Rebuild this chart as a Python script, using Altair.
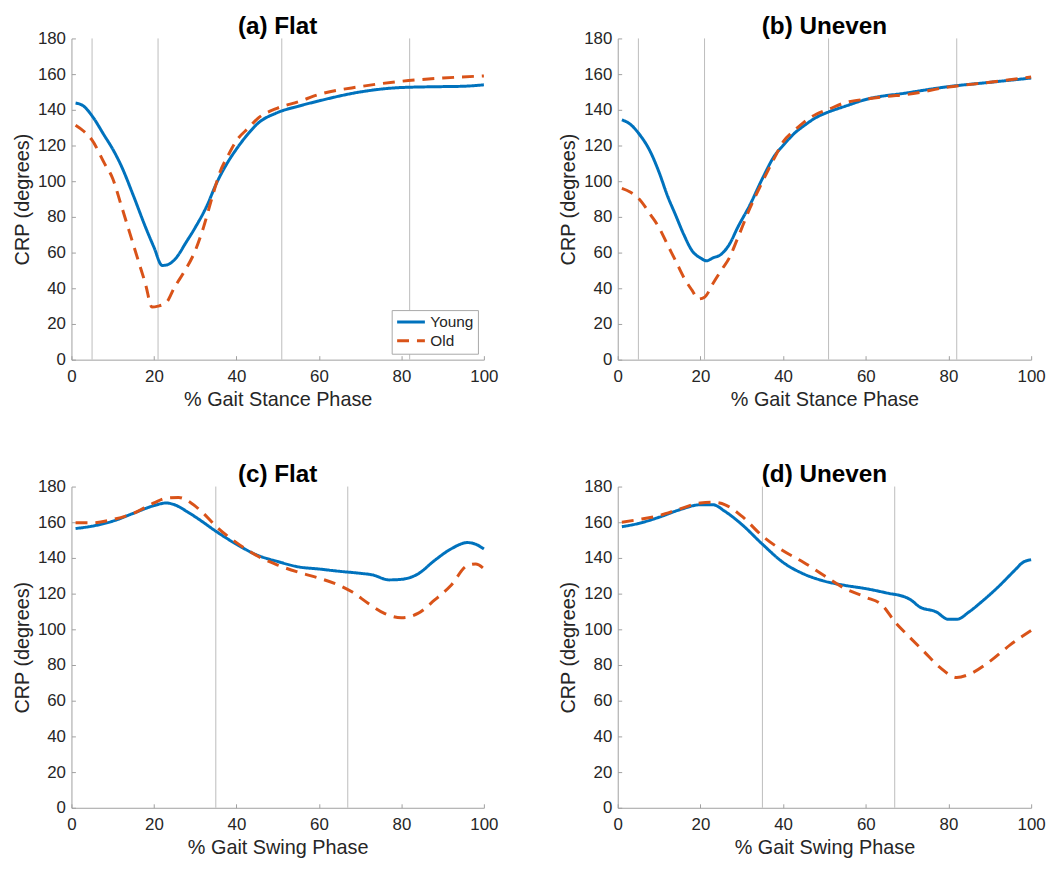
import altair as alt
import pandas as pd

# ---------------- data ----------------
groups = ["Young", "Old"]
colors = ["#0072BD", "#D95319"]

stance_events = [5, 21, 51, 82]
swing_events = [35, 67]

a_young_x = [1, 3, 5, 8, 10, 12, 15, 18, 20, 22, 23, 25, 28, 30, 33, 35, 38, 40, 43, 45, 50, 55, 60, 70, 80, 90, 95, 100]
a_young_y = [143.8, 142, 136.6, 125.5, 118, 109, 92, 74, 63, 52.8, 53, 56, 66.5, 74, 87, 98, 111, 118, 127, 132, 138.5, 142, 145, 150, 152.5, 153, 153.2, 154]
a_old_x = [1, 3, 5, 8, 10, 12, 14, 16, 18, 19.5, 21, 23, 25, 27, 30, 32, 34, 36, 38, 40, 43, 45, 50, 55, 60, 70, 80, 90, 100]
a_old_y = [131.4, 128, 123, 110, 101.5, 87, 72, 57, 42, 29.5, 30, 32, 40.6, 48, 61, 74, 90, 105, 114.5, 122.7, 130, 134.8, 141, 144.5, 148.6, 153, 156, 157.8, 159]

b_young_x = [1, 3, 5, 8, 10, 12, 14, 16, 18, 20, 21.5, 23, 25, 27, 29, 32, 35, 38, 40, 43, 45, 48, 51, 55, 60, 70, 80, 90, 100]
b_young_y = [134.4, 132, 127, 116, 105, 92, 81, 70, 61, 57, 55.4, 57, 59, 64.6, 74, 86.8, 101.5, 114.5, 120, 127.4, 131, 135.7, 138.8, 142, 145.8, 149.5, 153, 155.4, 157.8]
b_old_x = [1, 3, 5, 8, 10, 12, 14, 16, 18, 19.5, 21, 23, 25, 27, 29, 32, 35, 38, 40, 43, 45, 48, 51, 55, 60, 65, 70, 80, 90, 100]
b_old_y = [96, 94, 90.5, 81, 74, 64.6, 55.4, 46, 38.8, 34, 35, 42.5, 50, 57, 68, 85, 99.7, 113.5, 122, 129, 133, 137.5, 140.3, 144, 146, 147.5, 148.6, 152.8, 155.4, 158.4]

c_young_x = [1, 5, 10, 15, 20, 23, 25, 28, 31, 35, 40, 45, 50, 55, 60, 65, 70, 73, 77, 80, 84, 88, 92, 96, 98, 100]
c_young_y = [156.5, 157.8, 160.6, 165, 169.3, 170.8, 169.8, 166, 161.5, 155, 147.7, 141.6, 138, 135, 133.8, 132.5, 131.4, 130.5, 127.7, 128, 131, 138.5, 145, 148.6, 147.7, 145]
c_old_x = [1, 5, 10, 15, 20, 23, 26, 29, 32, 35, 40, 45, 50, 55, 60, 65, 68, 72, 76, 80, 84, 88, 92, 96, 98, 100]
c_old_y = [159.7, 159.7, 161.5, 165, 170.8, 173.5, 173.9, 170.8, 165, 157.8, 148.6, 141.2, 136, 132, 128.7, 124.6, 121, 114.5, 108.8, 106.5, 108.9, 116.3, 124.6, 135.7, 136.6, 134]

d_young_x = [1, 5, 10, 15, 20, 23, 26, 30, 35, 40, 45, 50, 55, 60, 65, 70, 71, 73, 77, 80, 82, 85, 88, 92, 96, 98, 100]
d_young_y = [157.5, 159.3, 162.8, 167, 169.8, 169.8, 166, 158.8, 147.7, 137.5, 131, 127, 124.6, 122.8, 120.4, 117.6, 116.3, 112.6, 109.8, 105.6, 105.6, 109.8, 115.4, 123.7, 133, 137.5, 139]
d_old_x = [1, 5, 10, 15, 20, 23, 26, 30, 35, 40, 45, 50, 55, 60, 64, 67, 70, 74, 78, 82, 85, 90, 95, 100]
d_old_y = [160, 161.5, 163.7, 167.4, 170.8, 171.2, 169.8, 163.4, 152.3, 144, 137.5, 130, 122.8, 118, 113.5, 104.3, 97, 87.7, 78.5, 73, 74.8, 82, 91.4, 99.4]

x_ticks = [0, 20, 40, 60, 80, 100]
y_ticks = [0, 20, 40, 60, 80, 100, 120, 140, 160, 180]

FONT = "Liberation Sans"
AXIS_GRAY = "#a0a0a0"


def panel(title, xlabel, yx, yy, ox, oy, events, width, show_legend):
    df = pd.concat([
        pd.DataFrame({"x": yx, "y": yy, "group": "Young"}),
        pd.DataFrame({"x": ox, "y": oy, "group": "Old"}),
    ])
    ev = pd.DataFrame({"x": events})
    xscale = alt.Scale(domain=[0, 100], nice=False, zero=False)
    yscale = alt.Scale(domain=[0, 180], nice=False)
    xaxis = alt.Axis(values=x_ticks, title=xlabel, orient="bottom", labelFlush=False, labelOverlap=False,
                     labelPadding=9, titlePadding=5, ticks=False, tickSize=0)
    yaxis = alt.Axis(values=y_ticks, title="CRP (degrees)", orient="left", labelOverlap=False,
                     labelPadding=6, titlePadding=5, ticks=False, tickSize=0)
    # inward-pointing tick marks (MATLAB style): axis drawn 4px inside with outward ticks
    xtick_axis = alt.Axis(values=x_ticks, title=None, orient="bottom", labels=False, domain=False,
                          ticks=True, tickSize=4, offset=-4, tickColor=AXIS_GRAY)
    ytick_axis = alt.Axis(values=y_ticks, title=None, orient="left", labels=False, domain=False,
                          ticks=True, tickSize=4, offset=-4, tickColor=AXIS_GRAY)
    if show_legend:
        leg = alt.Legend(title=None, orient="bottom-right", offset=6, symbolType="stroke",
                         symbolSize=784, symbolStrokeWidth=3, clipHeight=16, labelFontSize=15.5,
                         labelFont=FONT, labelColor="#262626", fillColor="white",
                         strokeColor="#a8a8a8", padding=4, rowPadding=2, labelOffset=4)
    else:
        leg = None
    rules = alt.Chart(ev).mark_rule(color="#bcbcbc", strokeWidth=1).encode(
        x=alt.X("x:Q", scale=xscale, axis=None)
    )
    tick_layer = alt.Chart(df).mark_point(opacity=0, size=1).encode(
        x=alt.X("x:Q", scale=xscale, axis=xtick_axis),
        y=alt.Y("y:Q", scale=yscale, axis=ytick_axis),
    )
    lines = alt.Chart(df).mark_line(strokeWidth=3, interpolate="monotone").encode(
        x=alt.X("x:Q", scale=xscale, axis=xaxis),
        y=alt.Y("y:Q", scale=yscale, axis=yaxis),
        color=alt.Color("group:N", scale=alt.Scale(domain=groups, range=colors), legend=leg),
        strokeDash=alt.StrokeDash("group:N", scale=alt.Scale(domain=groups, range=[[1, 0], [12, 8]]), legend=leg),
        order=alt.Order("x:Q"),
    )
    return alt.layer(rules, tick_layer, lines).resolve_axis(x="independent", y="independent").properties(
        width=width, height=324,
        title=alt.TitleParams(title, fontSize=24.5, font=FONT, fontWeight="bold", color="black",
                              offset=-10, frame="group"),
    )


a = panel("(a) Flat", "% Gait Stance Phase", a_young_x, a_young_y, a_old_x, a_old_y, stance_events, 416, True)
b = panel("(b) Uneven", "% Gait Stance Phase", b_young_x, b_young_y, b_old_x, b_old_y, stance_events, 417, False)
c = panel("(c) Flat", "% Gait Swing Phase", c_young_x, c_young_y, c_old_x, c_old_y, swing_events, 416, False)
d = panel("(d) Uneven", "% Gait Swing Phase", d_young_x, d_young_y, d_old_x, d_old_y, swing_events, 417, False)

chart = alt.concat(a, b, c, d, columns=2, spacing={"row": 128, "column": 135}, bounds="flush").resolve_scale(
    color="independent", strokeDash="independent"
).configure_axis(
    domainColor=AXIS_GRAY, domainWidth=1, grid=False,
    labelColor="#262626", titleColor="#262626", labelFont=FONT, titleFont=FONT,
    labelFontSize=17, titleFontSize=20, titleFontWeight="normal",
).configure_view(stroke=None).properties(
    padding={"left": 4, "top": 2, "right": 2, "bottom": 2}
)

chart.save("out.html", embed_options={"renderer": "svg", "actions": False})
